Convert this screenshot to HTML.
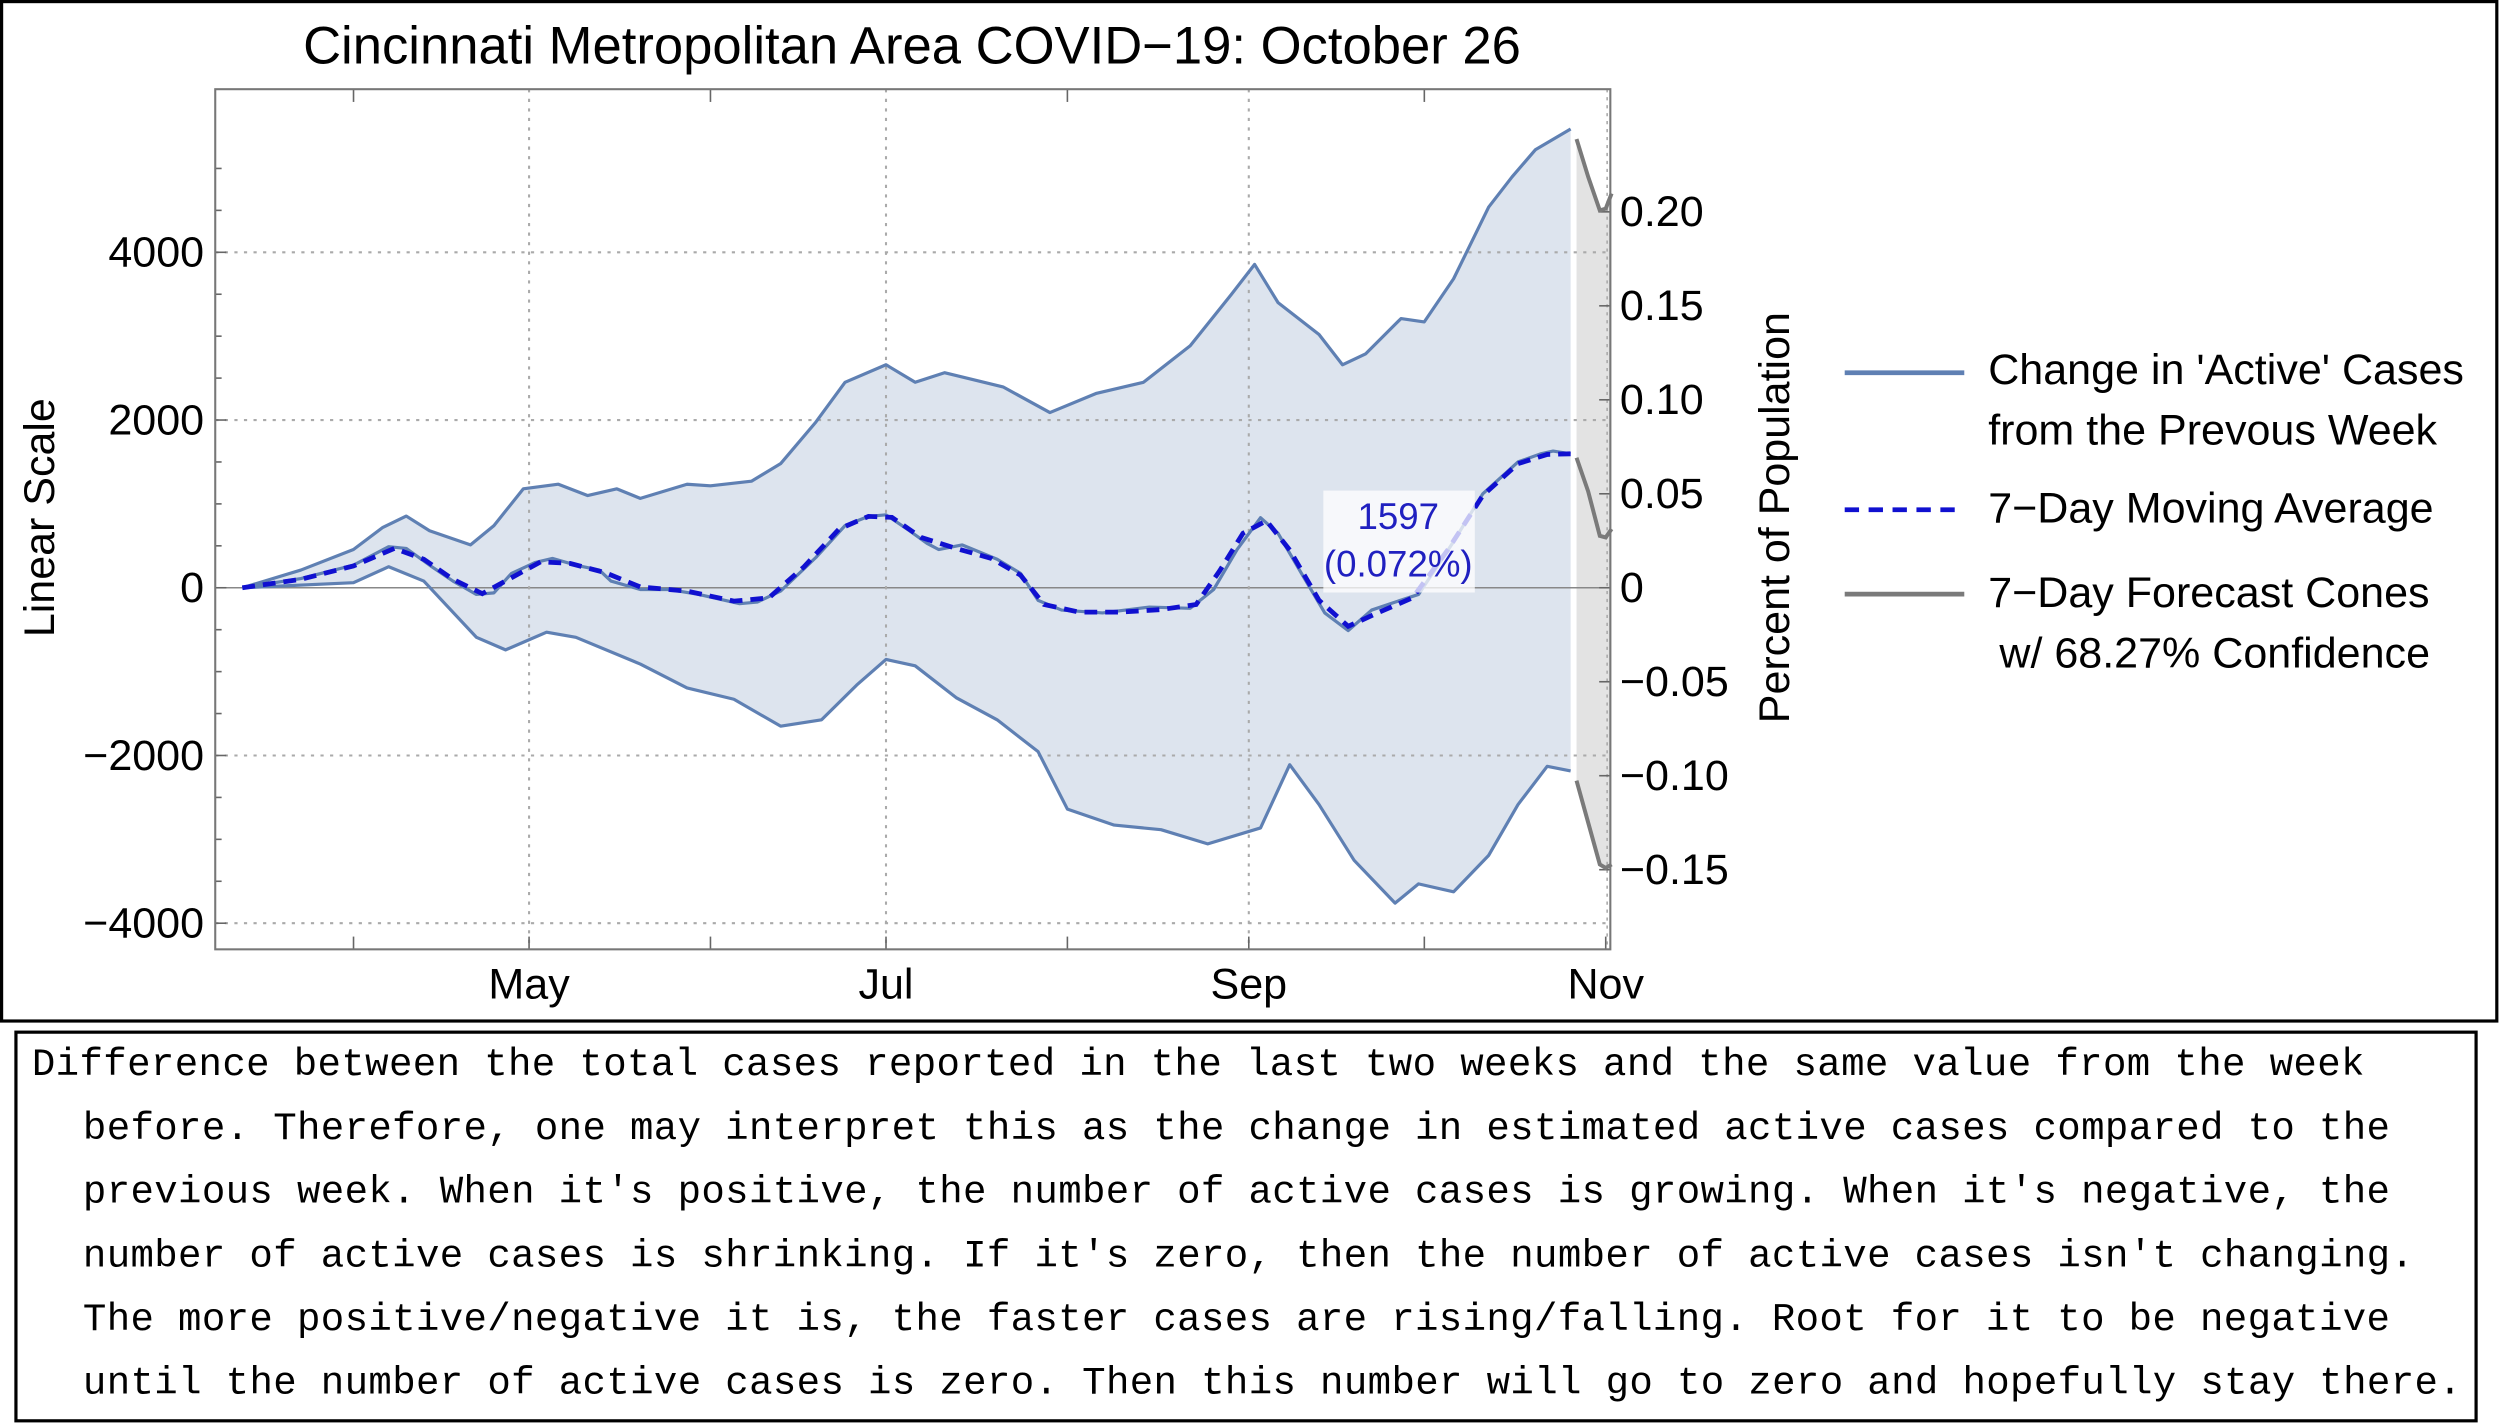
<!DOCTYPE html>
<html><head><meta charset="utf-8"><style>
html,body{margin:0;padding:0;background:#fff;width:2500px;height:1424px;overflow:hidden}
svg{display:block}
text{font-family:"Liberation Sans",sans-serif}
</style></head><body>
<svg id="chart" width="2500" height="1424" viewBox="0 0 1568 894" preserveAspectRatio="none" xmlns="http://www.w3.org/2000/svg">
<rect x="1" y="1" width="1565" height="640" fill="#fff" stroke="#000" stroke-width="2"/>
<text x="572" y="40" font-size="33" text-anchor="middle">Cincinnati Metropolitan Area COVID−19: October 26</text>
<g id="plot"></g>
<text transform="translate(34,325) rotate(-90)" font-size="27" text-anchor="middle">Linear Scale</text>
<text transform="translate(1122,325) rotate(-90)" font-size="27" text-anchor="middle">Percent of Population</text>
<g font-size="27">
<line x1="1157" y1="234" x2="1232" y2="234" stroke="#5f80b3" stroke-width="3"/>
<text x="1247" y="241">Change in 'Active' Cases</text>
<text x="1247" y="279">from the Prevous Week</text>
<line x1="1157" y1="320" x2="1232" y2="320" stroke="#1010d0" stroke-width="3" stroke-dasharray="9,6"/>
<text x="1247" y="328">7−Day Moving Average</text>
<line x1="1157" y1="373" x2="1232" y2="373" stroke="#7a7a7a" stroke-width="3"/>
<text x="1247" y="381">7−Day Forecast Cones</text>
<text x="1254" y="419">w/ 68.27% Confidence</text>
</g>
<rect x="10" y="648" width="1543" height="244" fill="#fff" stroke="#000" stroke-width="2"/>
<g font-size="24.5" style="font-family:'Liberation Mono',monospace">
<text x="20" y="675" textLength="1463" style="font-family:'Liberation Mono',monospace">Difference between the total cases reported in the last two weeks and the same value from the week</text>
<text x="52" y="715" textLength="1447" style="font-family:'Liberation Mono',monospace">before. Therefore, one may interpret this as the change in estimated active cases compared to the</text>
<text x="52" y="755" textLength="1447" style="font-family:'Liberation Mono',monospace">previous week. When it's positive, the number of active cases is growing. When it's negative, the</text>
<text x="52" y="795" textLength="1462" style="font-family:'Liberation Mono',monospace">number of active cases is shrinking. If it's zero, then the number of active cases isn't changing.</text>
<text x="52" y="835" textLength="1447" style="font-family:'Liberation Mono',monospace">The more positive/negative it is, the faster cases are rising/falling. Root for it to be negative</text>
<text x="52" y="875" textLength="1492" style="font-family:'Liberation Mono',monospace">until the number of active cases is zero. Then this number will go to zero and hopefully stay there.</text>
</g>
</svg>
<script>
// Days since Mar 13 and values
const days = [0,10,19,25,28,32,36,40,43,46,50,53,57,61,63,68,73,78,85,88,92,98,103,107,110,114,117,119,123,129,133,136,140,147,155,162,166,170,174,177,181,185,189,193,197,201,207,212,218,222,224,227];
const change = [0,110,270,490,470,270,80,-80,-60,170,300,350,270,210,80,-20,-20,-80,-190,-170,-40,360,740,850,870,680,530,455,510,340,170,-150,-265,-300,-230,-245,-20,455,835,650,170,-300,-510,-265,-170,-80,550,1120,1500,1600,1630,1597];
const maDays = [0,10,19,26,31,36,41,46,51,56,62,68,76,84,90,96,102,107,111,116,122,128,133,137,143,150,157,163,167,171,175,179,184,189,194,200,206,212,218,223,227];
const movingAvg = [0,100,260,470,340,100,-70,120,310,290,180,10,-40,-160,-120,250,700,850,840,600,470,350,150,-200,-290,-290,-260,-200,200,650,800,450,-150,-460,-300,-120,450,1100,1480,1590,1597];
const bandDays = [0,10,19,24,28,32,39,43,48,54,59,64,68,76,80,87,92,98,103,110,115,120,130,138,146,154,162,169,173,177,184,188,192,198,202,207,213,217,221,227];
const upper = [0,210,455,720,855,680,510,740,1180,1235,1100,1180,1065,1235,1215,1270,1480,1975,2450,2660,2450,2565,2395,2090,2320,2450,2885,3495,3855,3400,3020,2660,2790,3210,3170,3685,4540,4900,5225,5470];
const lowerDays = [0,19,25,31,40,45,52,57,68,76,84,92,99,105,110,115,122,129,136,141,149,157,165,174,179,184,190,197,201,207,213,218,223,227];
const lower = [0,60,250,80,-590,-740,-530,-590,-910,-1195,-1330,-1650,-1575,-1160,-855,-930,-1310,-1575,-1955,-2640,-2830,-2885,-3055,-2865,-2110,-2585,-3250,-3760,-3530,-3625,-3190,-2585,-2130,-2185];
const fcDays = [228,230,232,233,234];
const fcUpper = [5350,4900,4500,4520,4700];
const fcMid = [1550,1150,620,600,700];
const fcLower = [-2300,-2800,-3300,-3340,-3300];
const yTicks = [-4000,-2000,0,2000,4000];
const yTickLabels = ["−4000","−2000","0","2000","4000"];
const pctTicks = [-0.15,-0.10,-0.05,0,0.05,0.10,0.15,0.20];
const pctLabels = ["−0.15","−0.10","−0.05","0","0.05","0.10","0.15","0.20"];
const monthDays = [49,110,172,233];
const monthLabels = ["May","Jul","Sep","Nov"];
const minorMonthDays = [19,80,141,202];
const labelValue = "1597";
const labelPct = "(0.072%)";

const NS="http://www.w3.org/2000/svg";
const L=135,R=1010,T=56,B=596;
const X=d=>152+d*3.67;
const Y=v=>369-v*0.05265;
const YP=p=>369-p*1180;
const g=document.getElementById('plot');
function mk(tag,attrs,parent){const e=document.createElementNS(NS,tag);for(const k in attrs)e.setAttribute(k,attrs[k]);(parent||g).appendChild(e);return e;}
function pts(ds,vs){return ds.map((d,i)=>X(d).toFixed(1)+","+Y(vs[i]).toFixed(1)).join(" ");}

let band=mk('polygon',{points:pts(bandDays,upper)+" "+pts(lowerDays.slice().reverse(),lower.slice().reverse()),fill:'#dde4ee'});


let cone=mk('polygon',{points:pts(fcDays,fcUpper)+" "+pts(fcDays.slice().reverse(),fcLower.slice().reverse()),fill:'#e3e3e3'});


yTicks.forEach((v,i)=>{
  const ln=mk('line',{x1:L,x2:R,y1:Y(v),y2:Y(v),stroke:v===0?'#888':'#aaa','stroke-width':v===0?1:1.3,'stroke-dasharray':v===0?'none':'2,4'});
  
  
  const tk=mk('line',{x1:L,x2:L+7,y1:Y(v),y2:Y(v),stroke:'#666','stroke-width':1});
  
  
  const t=mk('text',{x:L-7,y:Y(v)+9,'font-size':27,'text-anchor':'end'});
  t.textContent=yTickLabels[i];
  
  
});
for(let v=-4000;v<=5000;v+=500){if(v%2000===0)continue;
  const tk=mk('line',{x1:L,x2:L+4,y1:Y(v),y2:Y(v),stroke:'#666','stroke-width':1});
  
  }
monthDays.forEach((d,i)=>{
  if(i<3){const ln=mk('line',{x1:X(d),x2:X(d),y1:T,y2:B,stroke:'#aaa','stroke-width':1.3,'stroke-dasharray':'2,4'});
  
  }
  const t=mk('text',{x:X(d),y:B+31,'font-size':27,'text-anchor':'middle'});
  t.textContent=monthLabels[i];
  
  
  const tk=mk('line',{x1:X(d),x2:X(d),y1:B,y2:B-8,stroke:'#666'});
  
  
});
minorMonthDays.forEach(d=>{
  [[B,B-8],[T,T+8]].forEach(p=>{const tk=mk('line',{x1:X(d),x2:X(d),y1:p[0],y2:p[1],stroke:'#666'});
  
  });
});
mk('line',{x1:1008,x2:1008,y1:T,y2:B,stroke:'#aaa','stroke-dasharray':'2,3'});
pctTicks.forEach((p,i)=>{
  const tk=mk('line',{x1:R-7,x2:R,y1:YP(p),y2:YP(p),stroke:'#666'});
  
  
  const t=mk('text',{x:R+6,y:YP(p)+9,'font-size':27});
  t.textContent=pctLabels[i];
  
  
});
[[bandDays,upper,'upper-band-line'],[lowerDays,lower,'lower-band-line'],[days,change,'change-line']].forEach(s=>{
  const p=mk('polyline',{points:pts(s[0],s[1]),fill:'none',stroke:'#5f80b3','stroke-width':2,'stroke-linejoin':'round'});
  
  
});
const ma=mk('polyline',{points:pts(maDays,movingAvg),fill:'none',stroke:'#1010d0','stroke-width':3,'stroke-dasharray':'8,5'});


[[fcUpper,'forecast-upper'],[fcMid,'forecast-mid'],[fcLower,'forecast-lower']].forEach(s=>{
  const p=mk('polyline',{points:pts(fcDays,s[0]),fill:'none',stroke:'#7a7a7a','stroke-width':2.5});
  
  
});
const fr=mk('rect',{x:L,y:T,width:R-L,height:B-T,fill:'none',stroke:'#777','stroke-width':1.3});


const lb=mk('rect',{x:830,y:308,width:95,height:64,fill:'#fff','fill-opacity':0.75});


const t1=mk('text',{x:877,y:332,'font-size':23,'text-anchor':'middle',fill:'#2020c0'});
t1.textContent=labelValue;


const t2=mk('text',{x:877,y:362,'font-size':23,'text-anchor':'middle',fill:'#2020c0'});
t2.textContent=labelPct;


</script>
</body></html>
